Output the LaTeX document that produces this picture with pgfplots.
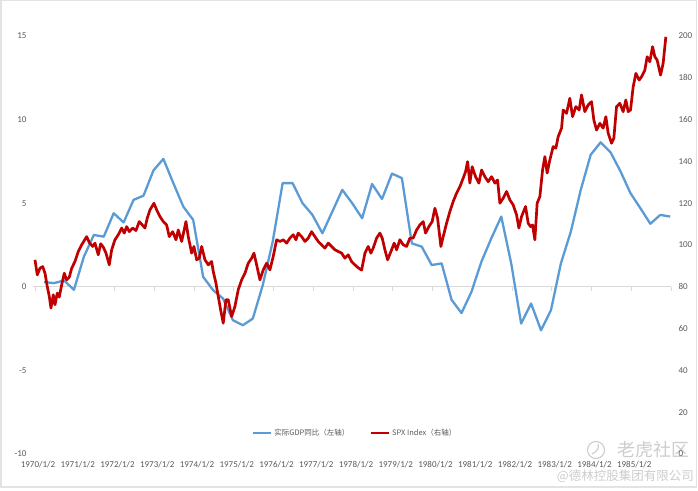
\documentclass[border=0pt]{standalone}
\usepackage{pgfplots}
\pgfplotsset{compat=1.18}
\usepackage{fontspec}
\setmainfont{Carlito}
\newfontfamily\cjk{Noto Sans CJK SC}
\definecolor{gdpblue}{RGB}{91,155,213}
\definecolor{spxred}{RGB}{192,0,0}
\definecolor{txtgray}{RGB}{89,89,89}
\definecolor{wmgray}{RGB}{205,205,205}
\begin{document}
\begin{tikzpicture}
\path[use as bounding box] (0pt,0pt) rectangle (698pt,490pt);
\fill[white] (0pt,0pt) rectangle (698pt,490pt);
\draw[gray!22, line width=1.2pt] (1pt,3pt) rectangle (696.5pt,489.5pt);
% watermark
\draw[wmgray, line width=1.1pt] (596pt,40pt) circle (8.5pt);
\draw[wmgray, line width=1.1pt] (592pt,36pt) .. controls (596pt,38pt) and (600pt,42pt) .. (598pt,46pt);
\node[text=wmgray, font=\cjk\fontsize{18}{18}\selectfont, anchor=east, inner sep=0pt] at (690pt,40pt) {老虎社区};
\node[text=wmgray, font=\cjk\fontsize{12.5}{12.5}\selectfont, anchor=east, inner sep=0pt] at (694pt,14pt) {@德林控股集团有限公司};
\begin{axis}[
  at={(33pt,36pt)}, anchor=south west, scale only axis, width=638pt, height=418pt,
  xmin=1969.95, xmax=1986.0, ymin=-10, ymax=15,
  axis y line*=left, axis x line*=bottom,
  x axis line style={draw=none}, y axis line style={draw=none},
  ytick={-10,-5,0,5,10,15},
  xtick={1970,1971,1972,1973,1974,1975,1976,1977,1978,1979,1980,1981,1982,1983,1984,1985},
  xticklabels={1970/1/2,1971/1/2,1972/1/2,1973/1/2,1974/1/2,1975/1/2,1976/1/2,1977/1/2,1978/1/2,1979/1/2,1980/1/2,1981/1/2,1982/1/2,1983/1/2,1984/1/2,1985/1/2},
  major tick length=0pt,
  tick label style={font=\fontsize{9}{10}\selectfont, text=txtgray},
  xticklabel style={xshift=3pt, yshift=-4pt},
  yticklabel style={xshift=-3pt},
  /pgf/number format/assume math mode=true,
  clip=false,
]
\draw[gray!30, line width=0.8pt] (axis cs:1969.95,0) -- (axis cs:1986,0);
\pgfplotsinvokeforeach{1970,1971,1972,1973,1974,1975,1976,1977,1978,1979,1980,1981,1982,1983,1984,1985,1986}{
  \draw[gray!30, line width=0.8pt] (axis cs:#1,0) -- ([yshift=-4pt]axis cs:#1,0);
}
\addplot[gdpblue, line width=2.3pt, line join=round, no marks] coordinates {
(1970.23,0.28) (1970.48,0.22) (1970.73,0.38) (1970.98,-0.18) (1971.23,1.8) (1971.48,3.1)
(1971.73,3.0) (1971.98,4.4) (1972.23,3.85) (1972.48,5.2) (1972.73,5.45) (1972.98,6.96)
(1973.23,7.65) (1973.48,6.2) (1973.73,4.8) (1973.98,4.0) (1974.23,0.6) (1974.48,-0.2)
(1974.73,-0.7) (1974.98,-2.0) (1975.23,-2.3) (1975.48,-1.9) (1975.73,0.1) (1975.98,2.7)
(1976.23,6.2) (1976.48,6.2) (1976.73,5.0) (1976.98,4.3) (1977.23,3.2) (1977.48,4.5)
(1977.73,5.8) (1977.98,5.0) (1978.23,4.1) (1978.48,6.15) (1978.73,5.25) (1978.98,6.77)
(1979.23,6.5) (1979.48,2.6) (1979.73,2.4) (1979.98,1.3) (1980.23,1.4) (1980.48,-0.78)
(1980.73,-1.57) (1980.98,-0.3) (1981.23,1.5) (1981.48,2.9) (1981.73,4.2) (1981.98,1.4)
(1982.23,-2.2) (1982.48,-1.0) (1982.73,-2.6) (1982.98,-1.4) (1983.23,1.4) (1983.48,3.3)
(1983.73,5.8) (1983.98,7.9) (1984.23,8.64) (1984.48,8.04) (1984.73,6.9) (1984.98,5.6)
(1985.23,4.7) (1985.48,3.77) (1985.73,4.3) (1985.98,4.2)
};
\end{axis}
\begin{axis}[
  at={(33pt,36pt)}, anchor=south west, scale only axis, width=638pt, height=418pt,
  xmin=1969.95, xmax=1986.0, ymin=0, ymax=200,
  axis y line*=right, axis x line=none,
  y axis line style={draw=none},
  ytick={0,20,...,200},
  major tick length=0pt,
  tick label style={font=\fontsize{9}{10}\selectfont, text=txtgray},
  yticklabel style={xshift=4pt},
  /pgf/number format/assume math mode=true,
  clip=false,
  legend style={at={(0.505,0.05)}, anchor=center, draw=none, fill=none,
    legend columns=2, font=\cjk\fontsize{7.5}{9}\selectfont, text=txtgray,
    /tikz/every even column/.append style={column sep=18pt}},
  legend image code/.code={\draw[#1] (0pt,0pt) -- (18pt,0pt);},
]
\addlegendimage{gdpblue, line width=2.3pt}
\addlegendentry{实际GDP同比（左轴）}
\addplot[spxred, line width=2.7pt, line join=round, no marks] coordinates {
(1970.000,92.9) (1970.058,85.7) (1970.126,88.9) (1970.194,89.7) (1970.252,86.5)
(1970.309,80.1) (1970.360,75.4) (1970.402,69.8) (1970.460,76.2) (1970.503,71.4)
(1970.561,77.0) (1970.611,75.1) (1970.672,81.0) (1970.737,86.5) (1970.797,83.3)
(1970.863,84.6) (1970.923,88.9) (1971.006,92.1) (1971.089,96.9) (1971.175,100.1)
(1971.300,104.0) (1971.366,101.2) (1971.451,99.3) (1971.509,100.9) (1971.592,95.3)
(1971.652,100.6) (1971.718,99.0) (1971.786,96.1) (1971.869,90.5) (1971.929,97.7)
(1972.012,102.5) (1972.095,104.9) (1972.180,108.1) (1972.246,105.7) (1972.306,108.8)
(1972.372,106.4) (1972.457,108.1) (1972.540,106.9) (1972.623,111.2) (1972.699,109.6)
(1972.767,108.1) (1972.824,112.8) (1972.892,116.8) (1972.993,120.0) (1973.061,116.8)
(1973.144,113.6) (1973.227,111.2) (1973.312,109.6) (1973.378,104.0) (1973.463,106.4)
(1973.546,102.5) (1973.604,107.2) (1973.690,101.7) (1973.798,111.2) (1973.856,104.0)
(1973.941,96.1) (1973.999,99.3) (1974.067,92.9) (1974.132,93.7) (1974.193,99.3)
(1974.276,92.9) (1974.359,90.5) (1974.444,92.1) (1974.485,87.3) (1974.552,81.8)
(1974.610,75.4) (1974.670,69.0) (1974.736,62.6) (1974.804,73.8) (1974.861,73.8)
(1974.947,65.8) (1975.030,70.6) (1975.113,78.6) (1975.199,83.3) (1975.282,86.5)
(1975.365,91.3) (1975.450,93.7) (1975.508,96.1) (1975.576,90.5) (1975.659,83.3)
(1975.742,88.1) (1975.827,91.3) (1975.910,88.1) (1975.993,94.5) (1976.079,102.5)
(1976.162,101.7) (1976.245,102.5) (1976.330,100.9) (1976.413,103.3) (1976.496,104.9)
(1976.564,102.5) (1976.622,105.7) (1976.708,104.0) (1976.791,101.7) (1976.874,103.3)
(1976.959,106.4) (1977.042,104.0) (1977.125,101.7) (1977.211,100.1) (1977.294,98.5)
(1977.377,100.9) (1977.462,99.3) (1977.545,97.7) (1977.628,96.9) (1977.714,96.1)
(1977.797,93.7) (1977.880,95.3) (1977.965,92.1) (1978.048,90.5) (1978.131,89.1)
(1978.217,88.0) (1978.300,96.1) (1978.383,99.3) (1978.450,96.1) (1978.508,98.5)
(1978.594,103.3) (1978.677,105.7) (1978.735,103.3) (1978.803,97.7) (1978.871,92.9)
(1978.954,96.9) (1979.036,100.9) (1979.097,97.7) (1979.180,102.5) (1979.263,100.1)
(1979.348,99.3) (1979.431,103.3) (1979.514,103.3) (1979.600,107.2) (1979.683,109.6)
(1979.766,111.2) (1979.826,105.7) (1979.909,108.8) (1979.992,111.2) (1980.060,117.6)
(1980.128,112.8) (1980.211,99.3) (1980.269,104.0) (1980.354,110.4) (1980.437,116.0)
(1980.520,120.8) (1980.606,124.8) (1980.689,127.9) (1980.772,132.0) (1980.832,135.1)
(1980.883,139.9) (1980.940,129.6) (1980.998,137.5) (1981.083,132.7) (1981.167,129.6)
(1981.235,135.9) (1981.318,132.7) (1981.401,130.3) (1981.486,132.7) (1981.569,129.6)
(1981.637,131.1) (1981.695,120.0) (1981.778,122.4) (1981.863,125.6) (1981.946,121.6)
(1982.029,119.2) (1982.115,114.4) (1982.173,108.1) (1982.240,113.6) (1982.341,118.4)
(1982.407,110.4) (1982.467,108.8) (1982.517,109.6) (1982.575,102.5) (1982.633,120.0)
(1982.701,123.2) (1982.769,135.9) (1982.827,142.3) (1982.884,134.4) (1982.952,140.7)
(1983.036,147.1) (1983.103,146.3) (1983.161,151.8) (1983.247,155.9) (1983.287,164.6)
(1983.372,163.0) (1983.455,170.2) (1983.523,161.4) (1983.606,166.2) (1983.689,164.6)
(1983.749,171.8) (1983.832,163.8) (1983.915,167.0) (1984.001,168.6) (1984.059,159.8)
(1984.127,155.0) (1984.210,158.2) (1984.293,155.9) (1984.361,161.4) (1984.419,153.5)
(1984.504,148.7) (1984.562,151.1) (1984.630,166.2) (1984.713,167.8) (1984.796,163.8)
(1984.864,169.4) (1984.922,163.8) (1984.982,164.6) (1985.048,175.7) (1985.116,182.1)
(1985.199,178.9) (1985.258,180.5) (1985.342,183.7) (1985.400,190.1) (1985.468,187.7)
(1985.536,194.9) (1985.593,190.1) (1985.651,188.5) (1985.737,181.3) (1985.802,186.9)
(1985.870,199.6)
};
\addlegendentry{SPX Index（右轴）}
\end{axis}
\end{tikzpicture}
\end{document}
